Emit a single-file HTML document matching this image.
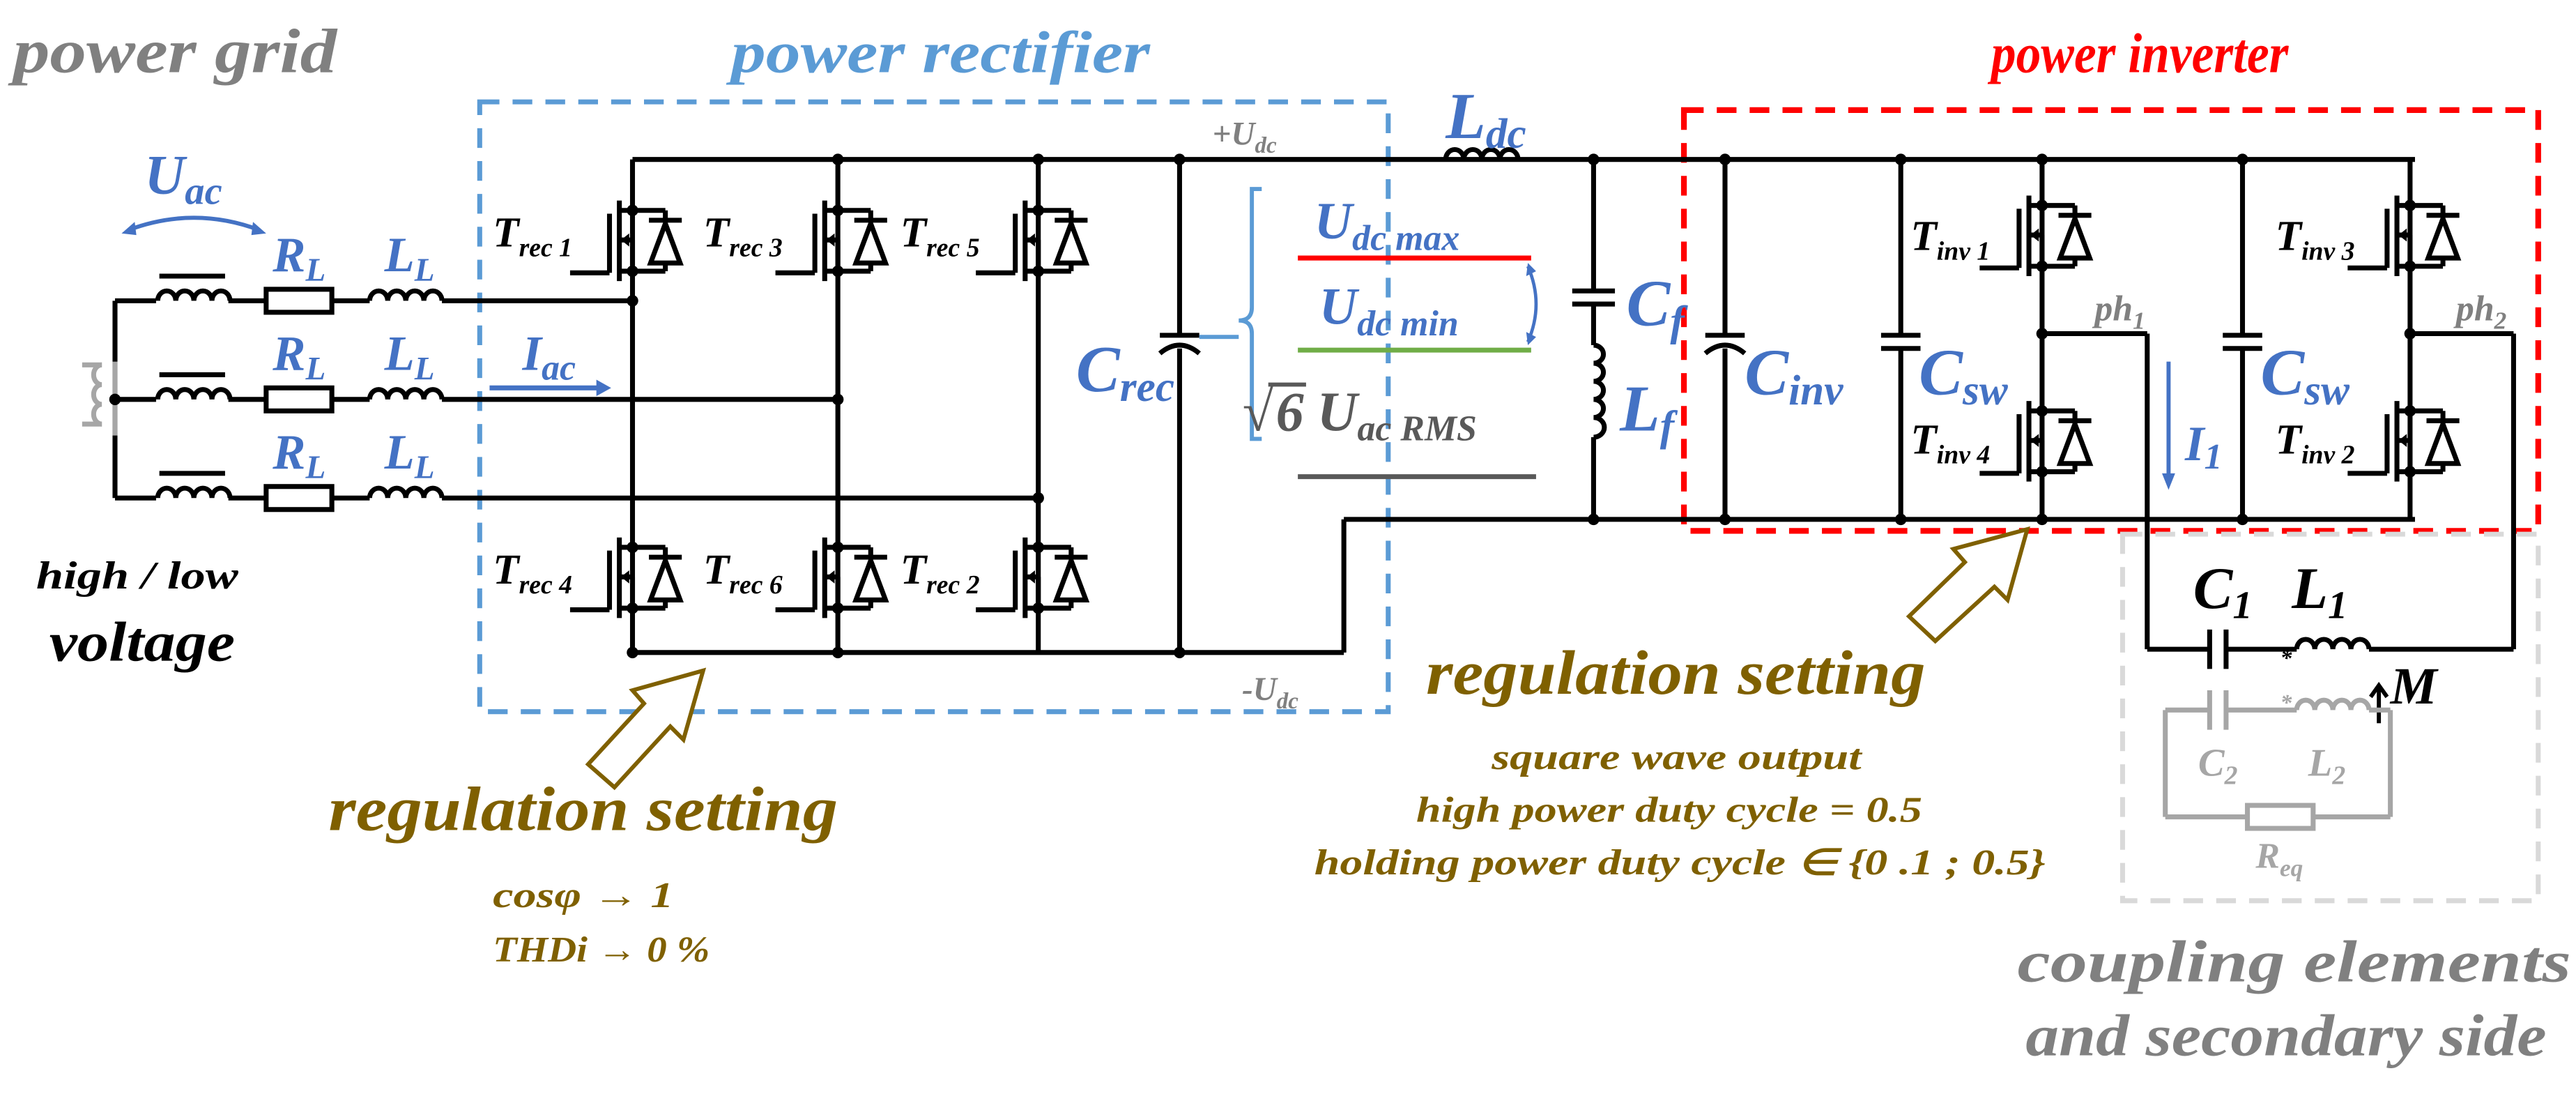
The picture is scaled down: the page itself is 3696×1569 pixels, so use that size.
<!DOCTYPE html>
<html><head><meta charset="utf-8"><style>
html,body{margin:0;padding:0;background:#fff;}
svg{display:block;}
text{font-family:"Liberation Serif",serif;font-style:italic;font-weight:bold;}
</style></head><body>
<svg width="3696" height="1569" viewBox="0 0 1568 665.6" preserveAspectRatio="none" xmlns="http://www.w3.org/2000/svg">
<defs>
<g id="mos" stroke="#000" stroke-width="3" fill="none">
<circle cx="0" cy="0" r="3.5" fill="#000" stroke="none"/>
<circle cx="0" cy="37" r="3.5" fill="#000" stroke="none"/>
<line x1="-8" y1="-6" x2="-8" y2="43"/>
<line x1="-14" y1="2" x2="-14" y2="38"/>
<line x1="-38" y1="38" x2="-14" y2="38"/>
<line x1="-8" y1="0" x2="20" y2="0"/>
<line x1="-8" y1="37" x2="20" y2="37"/>
<line x1="-8" y1="18" x2="0" y2="18"/>
<line x1="0" y1="18" x2="0" y2="37"/>
<path d="M-7 18 l5 -4 v8 z" fill="#000" stroke="none"/>
<line x1="20" y1="0" x2="20" y2="6"/>
<line x1="10" y1="6" x2="30" y2="6"/>
<path d="M20 8 L11 32 L29 32 Z"/>
<line x1="20" y1="32" x2="20" y2="37"/>
</g>
<g id="ind" stroke="#000" stroke-width="3" fill="none">
<path d="M0 0 a5.5 6 0 0 1 11 0 a5.5 6 0 0 1 11 0 a5.5 6 0 0 1 11 0 a5.5 6 0 0 1 11 0"/>
</g>
</defs>

<rect x="292" y="62" width="553" height="371" fill="none" stroke="#5b9bd5" stroke-width="3" stroke-dasharray="12 8"/>
<rect x="1025" y="67" width="520" height="256" fill="none" stroke="#ff0000" stroke-width="3.5" stroke-dasharray="12 8"/>
<rect x="1292" y="325" width="253" height="223" fill="none" stroke="#d9d9d9" stroke-width="3" stroke-dasharray="12 8"/>

<text x="8" y="44" font-size="38" fill="#808080" textLength="197" lengthAdjust="spacingAndGlyphs">power grid</text>
<text x="445" y="44" font-size="36" fill="#5b9bd5" textLength="255" lengthAdjust="spacingAndGlyphs">power rectifier</text>
<text x="1212" y="44" font-size="34" fill="#ff0000" textLength="181" lengthAdjust="spacingAndGlyphs">power inverter</text>

<g stroke="#000" stroke-width="3" fill="none">
<line x1="70" y1="183" x2="70" y2="303"/>
<line x1="70" y1="183" x2="95" y2="183"/><line x1="139" y1="183" x2="162" y2="183"/><line x1="202" y1="183" x2="225" y2="183"/><line x1="269" y1="183" x2="385" y2="183"/>
<line x1="70" y1="243" x2="95" y2="243"/><line x1="139" y1="243" x2="162" y2="243"/><line x1="202" y1="243" x2="225" y2="243"/><line x1="269" y1="243" x2="510" y2="243"/>
<line x1="70" y1="303" x2="95" y2="303"/><line x1="139" y1="303" x2="162" y2="303"/><line x1="202" y1="303" x2="225" y2="303"/><line x1="269" y1="303" x2="632" y2="303"/>
<rect x="162" y="176" width="40" height="14"/><rect x="162" y="236" width="40" height="14"/><rect x="162" y="296" width="40" height="14"/>
<line x1="97" y1="168" x2="137" y2="168"/><line x1="97" y1="228" x2="137" y2="228"/><line x1="97" y1="288" x2="137" y2="288"/>
<line x1="385" y1="97" x2="1470" y2="97"/>
<line x1="385" y1="97" x2="385" y2="397"/>
<line x1="510" y1="97" x2="510" y2="397"/>
<line x1="632" y1="97" x2="632" y2="397"/>
<line x1="385" y1="397" x2="818" y2="397"/>
<line x1="818" y1="397" x2="818" y2="316"/>
<line x1="818" y1="316" x2="1470" y2="316"/>
<line x1="718" y1="97" x2="718" y2="204"/><line x1="718" y1="212" x2="718" y2="397"/>
<line x1="706" y1="204" x2="730" y2="204"/><path d="M706 215 Q718 205 730 215"/>
<line x1="970" y1="97" x2="970" y2="177"/><line x1="957" y1="177" x2="983" y2="177"/><line x1="957" y1="185" x2="983" y2="185"/>
<line x1="970" y1="185" x2="970" y2="210"/><line x1="970" y1="266" x2="970" y2="316"/>
<line x1="1050" y1="97" x2="1050" y2="204"/><line x1="1050" y1="212" x2="1050" y2="316"/>
<line x1="1038" y1="204" x2="1062" y2="204"/><path d="M1038 215 Q1050 205 1062 215"/>
<line x1="1157" y1="97" x2="1157" y2="204"/><line x1="1157" y1="212" x2="1157" y2="316"/>
<line x1="1145" y1="204" x2="1169" y2="204"/><line x1="1145" y1="212" x2="1169" y2="212"/>
<line x1="1365" y1="97" x2="1365" y2="204"/><line x1="1365" y1="212" x2="1365" y2="316"/>
<line x1="1353" y1="204" x2="1377" y2="204"/><line x1="1353" y1="212" x2="1377" y2="212"/>
<line x1="1243" y1="97" x2="1243" y2="316"/>
<line x1="1467" y1="97" x2="1467" y2="316"/>
<line x1="1243" y1="203" x2="1307" y2="203"/><line x1="1307" y1="203" x2="1307" y2="395"/>
<line x1="1467" y1="203" x2="1530" y2="203"/><line x1="1530" y1="203" x2="1530" y2="395"/>
<line x1="1307" y1="395" x2="1345" y2="395"/><line x1="1355" y1="395" x2="1398" y2="395"/><line x1="1442" y1="395" x2="1530" y2="395"/>
<line x1="1345" y1="383" x2="1345" y2="407"/><line x1="1355" y1="383" x2="1355" y2="407"/>
</g>
<use href="#ind" x="96" y="183"/><use href="#ind" x="96" y="243"/><use href="#ind" x="96" y="303"/>
<use href="#ind" x="225" y="183"/><use href="#ind" x="225" y="243"/><use href="#ind" x="225" y="303"/>
<use href="#ind" x="880" y="97"/>
<use href="#ind" x="1398" y="395"/>
<g stroke="#000" stroke-width="3" fill="none">
<path d="M970 210 a6 5.5 0 0 1 0 11 a6 5.5 0 0 1 0 11 a6 5.5 0 0 1 0 11 a6 5.5 0 0 1 0 11 a6 5.5 0 0 1 0 12"/>
</g>
<g stroke="#a6a6a6" stroke-width="3" fill="none">
<path d="M62 222 a5 6 0 0 0 0 12 a5 6 0 0 0 0 12 a5 6 0 0 0 0 12"/>
<line x1="70" y1="220" x2="70" y2="265"/>
<line x1="62" y1="222" x2="50" y2="222"/><line x1="62" y1="258" x2="50" y2="258"/>
</g>
<use href="#mos" x="385" y="128"/><use href="#mos" x="510" y="128"/><use href="#mos" x="632" y="128"/>
<use href="#mos" x="385" y="333"/><use href="#mos" x="510" y="333"/><use href="#mos" x="632" y="333"/>
<use href="#mos" x="1243" y="125"/><use href="#mos" x="1243" y="250"/>
<use href="#mos" x="1467" y="125"/><use href="#mos" x="1467" y="250"/>
<g fill="#000">
<circle cx="70" cy="243" r="3.5"/>
<circle cx="510" cy="97" r="3.5"/><circle cx="632" cy="97" r="3.5"/><circle cx="718" cy="97" r="3.5"/>
<circle cx="385" cy="183" r="3.5"/><circle cx="510" cy="243" r="3.5"/><circle cx="632" cy="303" r="3.5"/>
<circle cx="385" cy="397" r="3.5"/><circle cx="510" cy="397" r="3.5"/><circle cx="718" cy="397" r="3.5"/>
<circle cx="970" cy="97" r="3.5"/><circle cx="1050" cy="97" r="3.5"/><circle cx="1157" cy="97" r="3.5"/><circle cx="1243" cy="97" r="3.5"/><circle cx="1365" cy="97" r="3.5"/>
<circle cx="970" cy="316" r="3.5"/><circle cx="1050" cy="316" r="3.5"/><circle cx="1157" cy="316" r="3.5"/><circle cx="1243" cy="316" r="3.5"/><circle cx="1365" cy="316" r="3.5"/>
<circle cx="1243" cy="203" r="3.5"/><circle cx="1467" cy="203" r="3.5"/>
</g>

<path d="M78 140 Q118 125 158 140" stroke="#4472c4" stroke-width="2.5" fill="none"/>
<path d="M74 142 l8 -7 l1 8z M162 142 l-8 -7 l-1 8z" fill="#4472c4"/>
<text x="88" y="118" font-size="34" fill="#4472c4">U<tspan font-size="24" dy="6">ac</tspan></text>
<g fill="#4472c4" font-size="30">
<text x="166" y="165">R<tspan font-size="20" dy="6">L</tspan></text><text x="234" y="165">L<tspan font-size="20" dy="6">L</tspan></text>
<text x="166" y="225">R<tspan font-size="20" dy="6">L</tspan></text><text x="234" y="225">L<tspan font-size="20" dy="6">L</tspan></text>
<text x="166" y="285">R<tspan font-size="20" dy="6">L</tspan></text><text x="234" y="285">L<tspan font-size="20" dy="6">L</tspan></text>
</g>
<text x="318" y="225" font-size="30" fill="#4472c4">I<tspan font-size="22" dy="6">ac</tspan></text>
<line x1="298" y1="236" x2="365" y2="236" stroke="#4472c4" stroke-width="3"/><path d="M372 236 l-9 -5 v10z" fill="#4472c4"/>
<text x="22" y="358" font-size="24" fill="#000" textLength="123" lengthAdjust="spacingAndGlyphs">high / low</text>
<text x="30" y="402" font-size="34" fill="#000" textLength="113" lengthAdjust="spacingAndGlyphs">voltage</text>

<g font-size="26" fill="#000">
<text x="300" y="150">T<tspan font-size="16" dy="6">rec 1</tspan></text>
<text x="428" y="150">T<tspan font-size="16" dy="6">rec 3</tspan></text>
<text x="548" y="150">T<tspan font-size="16" dy="6">rec 5</tspan></text>
<text x="300" y="355">T<tspan font-size="16" dy="6">rec 4</tspan></text>
<text x="428" y="355">T<tspan font-size="16" dy="6">rec 6</tspan></text>
<text x="548" y="355">T<tspan font-size="16" dy="6">rec 2</tspan></text>
<text x="1163" y="152">T<tspan font-size="16" dy="6">inv 1</tspan></text>
<text x="1163" y="276">T<tspan font-size="16" dy="6">inv 4</tspan></text>
<text x="1385" y="152">T<tspan font-size="16" dy="6">inv 3</tspan></text>
<text x="1385" y="276">T<tspan font-size="16" dy="6">inv 2</tspan></text>
</g>
<text x="1275" y="195" font-size="22" fill="#808080">ph<tspan font-size="15" dy="5">1</tspan></text>
<text x="1495" y="195" font-size="22" fill="#808080">ph<tspan font-size="15" dy="5">2</tspan></text>
<line x1="1320" y1="220" x2="1320" y2="290" stroke="#4472c4" stroke-width="2.5"/><path d="M1320 298 l-4 -10 h8z" fill="#4472c4"/>
<text x="1330" y="280" font-size="30" fill="#4472c4">I<tspan font-size="22" dy="5">1</tspan></text>
<g font-size="40" fill="#4472c4">
<text x="655" y="238">C<tspan font-size="26" dy="6">rec</tspan></text>
<text x="1062" y="240">C<tspan font-size="26" dy="6">inv</tspan></text>
<text x="1168" y="240">C<tspan font-size="26" dy="6">sw</tspan></text>
<text x="1376" y="240">C<tspan font-size="26" dy="6">sw</tspan></text>
<text x="990" y="198">C<tspan font-size="26" dy="6">f</tspan></text>
<text x="986" y="262">L<tspan font-size="26" dy="6">f</tspan></text>
<text x="880" y="84">L<tspan font-size="26" dy="6">dc</tspan></text>
</g>
<text x="738" y="88" font-size="20" fill="#808080" font-weight="normal">+U<tspan font-size="14" dy="5">dc</tspan></text>
<text x="756" y="426" font-size="20" fill="#808080" font-weight="normal">-U<tspan font-size="14" dy="5">dc</tspan></text>

<path d="M768 115 h-6 v72 q0 8 -8 8 q8 0 8 8 v64 h6" stroke="#5b9bd5" stroke-width="2.5" fill="none"/>
<line x1="730" y1="205" x2="754" y2="205" stroke="#5b9bd5" stroke-width="2.5"/>
<text x="800" y="145" font-size="32" fill="#4472c4">U<tspan font-size="22" dy="7">dc max</tspan></text>
<line x1="790" y1="157" x2="932" y2="157" stroke="#ff0000" stroke-width="3"/>
<text x="803" y="197" font-size="32" fill="#4472c4">U<tspan font-size="22" dy="7">dc min</tspan></text>
<line x1="790" y1="213" x2="932" y2="213" stroke="#70ad47" stroke-width="3"/>
<text x="756" y="262" font-size="34" fill="#595959">√<tspan dx="2">6</tspan><tspan dx="8">U</tspan><tspan font-size="22" dy="6">ac RMS</tspan></text>
<line x1="772" y1="234" x2="795" y2="234" stroke="#595959" stroke-width="2.5"/>
<line x1="790" y1="290" x2="935" y2="290" stroke="#595959" stroke-width="3"/>
<path d="M930 162 Q940 185 930 208" stroke="#4472c4" stroke-width="2" fill="none"/>
<path d="M930 160 l-1 8 l6 -3z M930 210 l-1 -8 l6 3z" fill="#4472c4"/>

<text x="1335" y="370" font-size="36" fill="#000">C<tspan font-size="24" dy="6">1</tspan></text>
<text x="1395" y="370" font-size="36" fill="#000">L<tspan font-size="24" dy="6">1</tspan></text>
<text x="1388" y="405" font-size="14" fill="#000">*</text>
<text x="1455" y="428" font-size="32" fill="#000">M</text>
<path d="M1448 440 V418 M1443 424 l5 -7 l5 7" stroke="#000" stroke-width="2.5" fill="none"/>
<g stroke="#a6a6a6" stroke-width="3" fill="none">
<path d="M1398 432 a5.5 6 0 0 1 11 0 a5.5 6 0 0 1 11 0 a5.5 6 0 0 1 11 0 a5.5 6 0 0 1 11 0"/>
<line x1="1318" y1="432" x2="1345" y2="432"/><line x1="1355" y1="432" x2="1398" y2="432"/><line x1="1442" y1="432" x2="1455" y2="432"/>
<line x1="1345" y1="420" x2="1345" y2="444"/><line x1="1355" y1="420" x2="1355" y2="444"/>
<line x1="1318" y1="432" x2="1318" y2="497"/><line x1="1455" y1="432" x2="1455" y2="497"/>
<line x1="1318" y1="497" x2="1368" y2="497"/><line x1="1408" y1="497" x2="1455" y2="497"/>
<rect x="1368" y="490" width="40" height="14"/>
</g>
<text x="1388" y="432" font-size="14" fill="#a6a6a6">*</text>
<g fill="#a6a6a6" font-weight="normal">
<text x="1338" y="472" font-size="24">C<tspan font-size="16" dy="5">2</tspan></text>
<text x="1405" y="472" font-size="24">L<tspan font-size="16" dy="5">2</tspan></text>
<text x="1373" y="528" font-size="22">R<tspan font-size="15" dy="5">eq</tspan></text>
</g>
<text x="1228" y="597" font-size="36" fill="#808080" textLength="337" lengthAdjust="spacingAndGlyphs">coupling elements</text>
<text x="1233" y="642" font-size="36" fill="#808080" textLength="317" lengthAdjust="spacingAndGlyphs">and secondary side</text>

<path d="M358 465 L392 428 L385 420 L428 408 L416 450 L408 442 L374 479 Z" fill="#fff" stroke="#7f6000" stroke-width="2.5"/>
<text x="200" y="505" font-size="38" fill="#7f6000" textLength="310" lengthAdjust="spacingAndGlyphs">regulation setting</text>
<text x="300" y="552" font-size="22" fill="#7f6000" textLength="110" lengthAdjust="spacingAndGlyphs">cosφ → 1</text>
<text x="300" y="585" font-size="22" fill="#7f6000" textLength="132" lengthAdjust="spacingAndGlyphs">THDi → 0 %</text>
<path d="M1162 375 L1196 342 L1189 334 L1234 322 L1222 365 L1214 357 L1178 390 Z" fill="#fff" stroke="#7f6000" stroke-width="2.5"/>
<text x="868" y="422" font-size="38" fill="#7f6000" textLength="304" lengthAdjust="spacingAndGlyphs">regulation setting</text>
<text x="908" y="468" font-size="22" fill="#7f6000" textLength="225" lengthAdjust="spacingAndGlyphs">square wave output</text>
<text x="862" y="500" font-size="22" fill="#7f6000" textLength="308" lengthAdjust="spacingAndGlyphs">high power duty cycle = 0.5</text>
<text x="800" y="532" font-size="22" fill="#7f6000" textLength="445" lengthAdjust="spacingAndGlyphs">holding power duty cycle ∈ {0 .1 ; 0.5}</text>
</svg>
</body></html>
